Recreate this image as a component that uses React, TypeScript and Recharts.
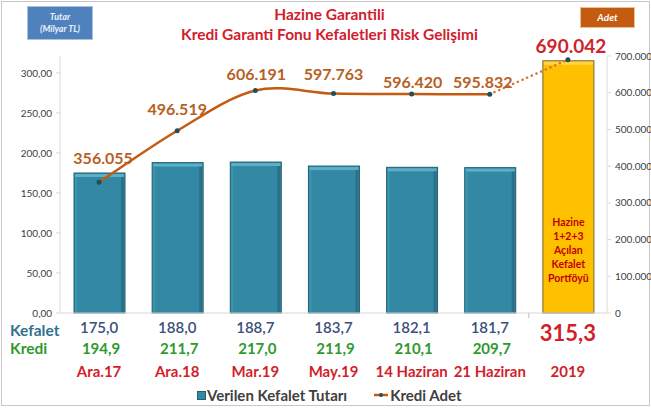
import React from 'react';
import { ComposedChart, Bar, Line, XAxis, YAxis, LabelList } from 'recharts';

const categories = ['Ara.17', 'Ara.18', 'Mar.19', 'May.19', '14 Haziran', '21 Haziran', '2019'];
const kefaletValues = [175.0, 188.0, 188.7, 183.7, 182.1, 181.7, 315.3];
const krediValues: (number | null)[] = [194.9, 211.7, 217.0, 211.9, 210.1, 209.7, null];
const krediAdet = [356055, 496519, 606191, 597763, 596420, 595832, 690042];
const leftTicks = [0, 50, 100, 150, 200, 250, 300];
const rightTicks = [0, 100000, 200000, 300000, 400000, 500000, 600000, 700000];
const portfolioLines = ['Hazine', '1+2+3', 'Açılan', 'Kefalet', 'Portföyü'];

const data = categories.map((cat, i) => ({
  cat,
  kefalet: kefaletValues[i],
  kredi: krediValues[i],
  solid: i < 6 ? krediAdet[i] : null,
  dotted: i >= 5 ? krediAdet[i] : null,
}));

const FONT = 'Lato, "Open Sans", sans-serif';

const fmtThousands = (v: number) => (v === 0 ? '0' : v.toLocaleString('de-DE'));
const fmtComma = (v: number, d: number) => v.toFixed(d).replace('.', ',');

const excelSmooth = (context: any) => {
  let pts: [number, number][] = [];
  return {
    areaStart() {},
    areaEnd() {},
    lineStart() {
      pts = [];
    },
    lineEnd() {
      if (!pts.length) return;
      context.moveTo(pts[0][0], pts[0][1]);
      for (let i = 0; i < pts.length - 1; i++) {
        const p0 = pts[i - 1] || pts[i];
        const p1 = pts[i];
        const p2 = pts[i + 1];
        const p3 = pts[i + 2] || p2;
        context.bezierCurveTo(
          p1[0] + (p2[0] - p0[0]) / 6,
          p1[1] + (p2[1] - p0[1]) / 6,
          p2[0] - (p3[0] - p1[0]) / 6,
          p2[1] - (p3[1] - p1[1]) / 6,
          p2[0],
          p2[1]
        );
      }
    },
    point(x: number, y: number) {
      pts.push([+x, +y]);
    },
  };
};

const BarShape = (props: any) => {
  const { x, y, width, height, payload } = props;
  if (!height || height <= 0) return null;
  if (payload && payload.cat === '2019') {
    const bottom = y + height;
    const offs = [-91, -77, -63, -49, -35];
    return (
      <g>
        <rect x={x} y={y} width={width} height={height} fill="#FFC000" stroke="#8C7B3C" strokeWidth={1.2} />
        <rect x={x + 1} y={y + 1} width={width - 2} height={3} fill="#FFD54A" />
        {portfolioLines.map((t, i) => (
          <text
            key={t}
            x={x + width / 2}
            y={bottom + offs[i]}
            textAnchor="middle"
            dominantBaseline="central"
            fill="#C00000"
            fontFamily={FONT}
            fontWeight={700}
            fontSize={10.5}
          >
            {t}
          </text>
        ))}
      </g>
    );
  }
  return (
    <g>
      <rect x={x} y={y} width={width} height={height} fill="#3389A3" stroke="#235F70" strokeWidth={1} />
      <rect x={x + 1} y={y + 1} width={width - 2} height={3} fill="#5BB0C8" />
      <rect x={x + width - 4} y={y + 4} width={3} height={height - 5} fill="#2A7189" />
      <rect x={x + 1} y={y + 4} width={2} height={height - 5} fill="#3C95AE" />
    </g>
  );
};

const XTick = (props: any) => {
  const { x, y, payload, index } = props;
  const i = index;
  const last = i === 6;
  return (
    <g>
      {i === 5 && <line x1={x + 39} x2={x + 39} y1={y} y2={y + 5} stroke="#BFBFBF" />}
      {last ? (
        <text x={x} y={y + 19} textAnchor="middle" dominantBaseline="central" fill="#D21F2B" fontFamily={FONT} fontWeight={700} fontSize={22}>
          {fmtComma(kefaletValues[i], 1)}
        </text>
      ) : (
        <text x={x} y={y + 14} textAnchor="middle" dominantBaseline="central" fill="#3B4F7C" fontFamily={FONT} fontWeight={600} fontSize={15}>
          {fmtComma(kefaletValues[i], 1)}
        </text>
      )}
      {krediValues[i] != null && (
        <text x={x + 2} y={y + 35} textAnchor="middle" dominantBaseline="central" fill="#2E9A2E" fontFamily={FONT} fontWeight={700} fontSize={15}>
          {fmtComma(krediValues[i] as number, 1)}
        </text>
      )}
      <text x={x} y={y + 58} textAnchor="middle" dominantBaseline="central" fill="#D21F2B" fontFamily={FONT} fontWeight={700} fontSize={15}>
        {payload.value}
      </text>
    </g>
  );
};

const labelDy = [-25, -22, -17, -20, -13, -13];
const labelDx = [4, 0, 1, 0, 1, -7];

const SolidLabel = (props: any) => {
  const { x, y, value, index } = props;
  if (value == null) return null;
  return (
    <text
      x={x + (labelDx[index] ?? 0)}
      y={y + (labelDy[index] ?? -16)}
      textAnchor="middle"
      dominantBaseline="central"
      fill="#B8601F"
      fontFamily={FONT}
      fontWeight={700}
      fontSize={16}
    >
      {fmtThousands(value)}
    </text>
  );
};

const DottedLabel = (props: any) => {
  const { x, y, value, index } = props;
  if (value == null || index !== 6) return null;
  return (
    <text x={x + 3} y={y - 14} textAnchor="middle" dominantBaseline="central" fill="#D21F2B" fontFamily={FONT} fontWeight={700} fontSize={19}>
      {fmtThousands(value)}
    </text>
  );
};

const Dot = (props: any) => {
  const { cx, cy, value } = props;
  if (value == null || cx == null || cy == null) return null;
  return <circle cx={cx} cy={cy} r={2.5} fill="#1F4E5F" />;
};

export default function App() {
  return (
    <div style={{ position: 'absolute', left: 0, top: 0, width: 651, height: 409, background: '#fff', fontFamily: FONT }}>
      <div style={{ position: 'absolute', left: 1, top: 1, width: 647, height: 403, border: '1px solid #C8C8C8' }} />
      <ComposedChart
        width={651}
        height={409}
        data={data}
        margin={{ top: 56, right: 0, left: 8, bottom: 16 }}
        style={{ position: 'absolute', left: 0, top: 0 }}
      >
        <XAxis
          dataKey="cat"
          height={80}
          tick={<XTick />}
          tickLine={false}
          tickSize={0}
          tickMargin={0}
          axisLine={{ stroke: '#D9D9D9' }}
          interval={0}
        />
        <YAxis
          yAxisId="left"
          width={52}
          domain={[0, 321.25]}
          ticks={leftTicks}
          tickFormatter={(v: number) => fmtComma(v, 2)}
          tick={{ fontSize: 10, fill: '#404040', fontFamily: FONT }}
          tickSize={4}
          tickMargin={4}
          tickLine={{ stroke: '#D9D9D9' }}
          axisLine={{ stroke: '#D9D9D9' }}
        />
        <YAxis
          yAxisId="right"
          orientation="right"
          width={44}
          domain={[0, 700000]}
          ticks={rightTicks}
          tickFormatter={fmtThousands}
          tick={{ fontSize: 10, fill: '#404040', fontFamily: FONT, textAnchor: 'start' }}
          tickSize={4}
          tickMargin={4}
          tickLine={{ stroke: '#D9D9D9' }}
          axisLine={{ stroke: '#D9D9D9' }}
        />
        <Bar yAxisId="left" dataKey="kefalet" barSize={51} shape={<BarShape />} isAnimationActive={false} />
        <Line
          yAxisId="right"
          dataKey="solid"
          type={excelSmooth as any}
          stroke="#C55A11"
          strokeWidth={2.5}
          dot={<Dot />}
          activeDot={false}
          connectNulls={false}
          isAnimationActive={false}
        >
          <LabelList dataKey="solid" content={<SolidLabel />} />
        </Line>
        <Line
          yAxisId="right"
          dataKey="dotted"
          type="linear"
          stroke="#D9712D"
          strokeWidth={2.5}
          strokeDasharray="0.1 5"
          strokeLinecap="round"
          dot={(p: any) => (p.index === 6 ? <Dot key={p.index} {...p} /> : <g key={p.index} />)}
          activeDot={false}
          isAnimationActive={false}
        >
          <LabelList dataKey="dotted" content={<DottedLabel />} />
        </Line>
      </ComposedChart>

      {/* Title */}
      <div style={{ position: 'absolute', left: 0, width: 651, top: 4, textAlign: 'center', color: '#D0202E', fontWeight: 700, fontSize: 15.5, lineHeight: '20px', paddingLeft: 4 }}>
        <div>Hazine Garantili</div>
        <div>Kredi Garanti Fonu Kefaletleri Risk Gelişimi</div>
      </div>

      {/* Left unit box */}
      <div
        style={{
          position: 'absolute', left: 27, top: 6, width: 64, height: 32,
          background: '#4F81BD', border: '1px solid #A9C2E0', color: '#EAF1FA', fontStyle: 'italic', fontWeight: 700,
          fontSize: 9, lineHeight: '12px', textAlign: 'center', display: 'flex', flexDirection: 'column', justifyContent: 'center',
        }}
      >
        <div>Tutar</div>
        <div>(Milyar TL)</div>
      </div>

      {/* Right unit box */}
      <div
        style={{
          position: 'absolute', left: 580, top: 7, width: 53, height: 19,
          background: '#C55A11', border: '1px solid #E8C39A', color: '#fff', fontStyle: 'italic', fontWeight: 700,
          fontSize: 10, lineHeight: '19px', textAlign: 'center',
        }}
      >
        Adet
      </div>

      {/* Row labels */}
      <div style={{ position: 'absolute', left: 10, top: 321, color: '#31708E', fontWeight: 700, fontSize: 15.5, lineHeight: '18px' }}>Kefalet</div>
      <div style={{ position: 'absolute', left: 10, top: 339, color: '#2E9A2E', fontWeight: 700, fontSize: 15.5, lineHeight: '18px' }}>Kredi</div>

      {/* Legend */}
      <div style={{ position: 'absolute', left: 197, top: 386, display: 'flex', alignItems: 'center', fontWeight: 700, fontSize: 15, color: '#404040', lineHeight: '18px' }}>
        <span style={{ display: 'inline-block', width: 7, height: 7, background: '#3389A3', border: '1px solid #235F70', marginRight: 1 }} />
        <span>Verilen Kefalet Tutarı</span>
        <svg width={16} height={10} style={{ marginLeft: 26, marginRight: 1 }}>
          <line x1={1} x2={15} y1={5} y2={5} stroke="#C55A11" strokeWidth={2.5} />
          <circle cx={8} cy={5} r={2} fill="#1F4E5F" />
        </svg>
        <span>Kredi Adet</span>
      </div>
    </div>
  );
}
